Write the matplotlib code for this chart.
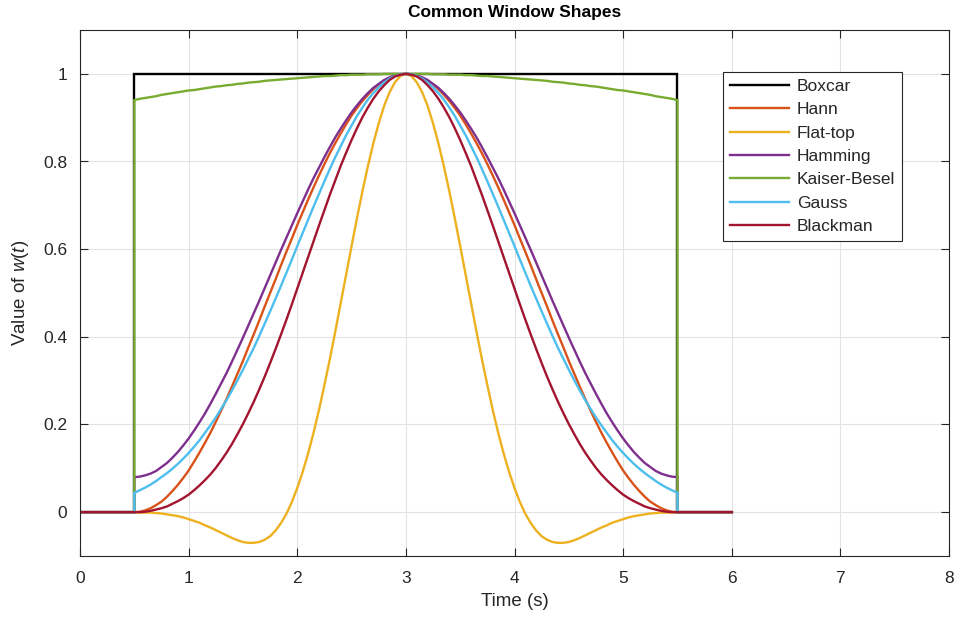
import numpy as np
import matplotlib
matplotlib.use("Agg")
import matplotlib.pyplot as plt

plt.rcParams['font.family'] = ['Liberation Sans', 'DejaVu Sans']
plt.rcParams['mathtext.fontset'] = 'custom'
plt.rcParams['mathtext.rm'] = 'Liberation Sans'
plt.rcParams['mathtext.it'] = 'Liberation Sans:italic'

# Window values (x1000) read from t = 0.5 .. 3.0 in steps of 0.05 (windows are symmetric about t = 3)
t_start, t_end = 0.5, 5.5
t_min, t_max = 0.0, 6.0

hann_half = [0, 1, 4, 9, 16, 24, 35, 48, 62, 78, 95, 115, 136, 158, 181, 206, 232, 259, 287, 316, 345, 376,
             406, 437, 469, 500, 531, 563, 594, 624, 655, 684, 713, 741, 768, 794, 819, 842, 864, 885, 905,
             922, 938, 952, 965, 976, 984, 991, 996, 999, 1000]
flattop_half = [0, -1, -1, -1, -2, -3, -5, -7, -9, -12, -16, -20, -24, -30, -35, -41, -47, -53, -59, -64, -68,
                -70, -70, -68, -63, -55, -42, -25, -4, 23, 55, 92, 134, 181, 233, 290, 349, 412, 477, 542, 607,
                671, 732, 789, 841, 887, 927, 958, 981, 995, 1000]
hamming_half = [80, 81, 84, 88, 94, 103, 112, 124, 137, 152, 168, 186, 205, 225, 247, 270, 294, 318, 344, 371,
                398, 426, 454, 482, 511, 540, 569, 598, 626, 654, 682, 709, 736, 762, 786, 810, 833, 855, 875,
                894, 912, 928, 943, 956, 968, 977, 986, 992, 996, 999, 1000]
kaiser_half = [940, 943, 945, 947, 949, 952, 954, 956, 958, 960, 962, 963, 965, 967, 969, 971, 972, 974, 975,
               977, 978, 980, 981, 982, 984, 985, 986, 987, 988, 989, 990, 991, 992, 993, 994, 995, 995, 996,
               997, 997, 998, 998, 998, 999, 999, 999, 1000, 1000, 1000, 1000, 1000]
gauss_half = [44, 50, 56, 63, 71, 80, 89, 99, 110, 122, 135, 149, 164, 181, 198, 216, 236, 256, 278, 301, 325,
              350, 375, 402, 430, 458, 487, 516, 546, 576, 607, 637, 667, 697, 726, 755, 783, 810, 835, 860,
              882, 904, 923, 941, 956, 969, 980, 989, 995, 999, 1000]
blackman_half = [0, 0, 1, 3, 6, 9, 13, 19, 25, 32, 40, 50, 61, 73, 86, 101, 118, 136, 156, 178, 201, 226, 252,
                 280, 309, 340, 372, 405, 439, 474, 510, 546, 582, 618, 654, 689, 724, 757, 790, 820, 849, 876,
                 901, 923, 943, 960, 974, 986, 994, 998, 1000]
boxcar_level = 1000

names = ['Boxcar', 'Hann', 'Flat-top', 'Hamming', 'Kaiser-Besel', 'Gauss', 'Blackman']
colors = ['#000000', '#D95319', '#EDB120', '#7E2F8E', '#77AC30', '#4DBEEE', '#A2142F']

xticks = [0, 1, 2, 3, 4, 5, 6, 7, 8]
yticks = [0, 0.2, 0.4, 0.6, 0.8, 1.0]
ytick_labels = ['0', '0.2', '0.4', '0.6', '0.8', '1']


def full_window(half):
    vals = list(half) + list(half[-2::-1])
    return np.array(vals, dtype=float) / 1000.0


n = len(hann_half) * 2 - 1
t_win = np.linspace(t_start, t_end, n)
t_full = np.concatenate([[t_min, t_start], t_win, [t_end, t_max]])


def padded(w):
    return np.concatenate([[0, 0], w, [0, 0]])


series = [np.full(n, boxcar_level / 1000.0)] + [full_window(h) for h in
          [hann_half, flattop_half, hamming_half, kaiser_half, gauss_half, blackman_half]]

fig = plt.figure(figsize=(9.57, 6.26), dpi=100)
ax = fig.add_axes([80 / 957, 1 - 556 / 626, (949 - 80) / 957, (556 - 30) / 626])

for name, col, w in zip(names, colors, series):
    ax.plot(t_full, padded(w), color=col, lw=1.7, label=name, solid_joinstyle='miter')

ax.set_xlim(0, 8)
ax.set_ylim(-0.1, 1.1)
ax.set_xticks(xticks)
ax.set_xticklabels([str(v) for v in xticks])
ax.set_yticks(yticks)
ax.set_yticklabels(ytick_labels)
ax.grid(True, color='#e3e3e3', lw=0.8)
ax.set_axisbelow(True)
ax.tick_params(direction='in', length=6, width=0.8, top=True, right=True, colors='#262626',
               labelsize=12.5)
ax.tick_params(axis='x', pad=11)
ax.tick_params(axis='y', pad=9)
for sp in ax.spines.values():
    sp.set_color('#262626')
    sp.set_linewidth(0.8)

ax.set_title('Common Window Shapes', fontsize=12.5, fontweight='bold', pad=9)
ax.set_xlabel('Time (s)', fontsize=13.5, color='#262626', labelpad=5)
ax.set_ylabel('Value of $w(t)$', fontsize=13.5, color='#262626', labelpad=9)

leg = ax.legend(loc='upper right', bbox_to_anchor=((902 - 80) / (949 - 80), (556 - 72) / (556 - 30)),
                borderaxespad=0, fontsize=12.5, frameon=True, fancybox=False, framealpha=1,
                edgecolor='#262626', handlelength=3.4, handletextpad=0.45, labelspacing=0.47,
                borderpad=0.4)
leg.get_frame().set_linewidth(0.8)
for txt in leg.get_texts():
    txt.set_color('#262626')

fig.savefig('out.png', dpi=100)
